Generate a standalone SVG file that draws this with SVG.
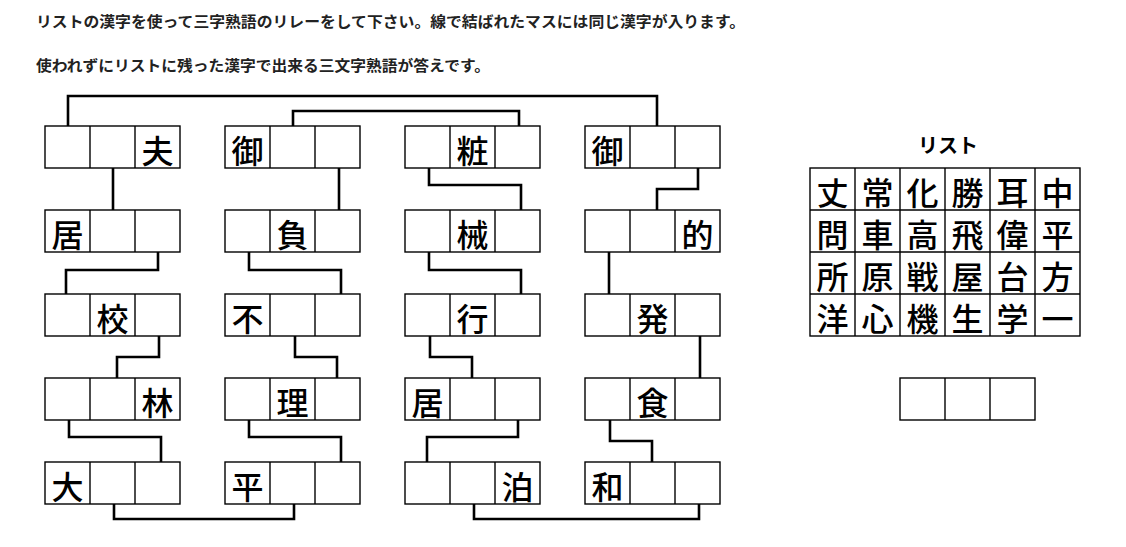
<svg xmlns="http://www.w3.org/2000/svg" width="1126" height="547" viewBox="0 0 1126 547">
<style>
.box{fill:#fff;stroke:#000;stroke-width:1.4}
.div{stroke:#000;stroke-width:1.4}
.k{font-family:"Noto Sans CJK JP","Noto Sans CJK SC",sans-serif;font-size:32px;font-weight:500;text-anchor:middle;fill:#000}
.con{fill:none;stroke:#000;stroke-width:2.6;stroke-linejoin:miter}
.ins{font-family:"Noto Sans CJK JP",sans-serif;font-size:15px;font-weight:bold;fill:#222}
.ttl{font-family:"Noto Sans CJK JP",sans-serif;font-size:20px;font-weight:bold;text-anchor:middle;fill:#000}
</style>
<defs>
<g id="b3"><rect class="box" x="0" y="0" width="135" height="42"/><line class="div" x1="45" y1="0" x2="45" y2="42"/><line class="div" x1="90" y1="0" x2="90" y2="42"/></g>
</defs>
<rect width="1126" height="547" fill="#fff"/>
<g id="instructions">
<text class="ins" x="36" y="27" textLength="709" lengthAdjust="spacingAndGlyphs">リストの漢字を使って三字熟語のリレーをして下さい。線で結ばれたマスには同じ漢字が入ります。</text>
<text class="ins" x="36" y="71" textLength="454" lengthAdjust="spacingAndGlyphs">使われずにリストに残った漢字で出来る三文字熟語が答えです。</text>
</g>
<g id="connectors">
<polyline class="con" points="68,126 68,96 657,96 657,126"/>
<polyline class="con" points="293,126 293,111 519,111 519,126"/>
<polyline class="con" points="113,168 113,210"/>
<polyline class="con" points="339,168 339,210"/>
<polyline class="con" points="429,168 429,185 521,185 521,210"/>
<polyline class="con" points="698,168 698,189 657,189 657,210"/>
<polyline class="con" points="158,252 158,270 66,270 66,294"/>
<polyline class="con" points="249,252 249,270 341,270 341,294"/>
<polyline class="con" points="429,252 429,270 521,270 521,294"/>
<polyline class="con" points="609,252 609,294"/>
<polyline class="con" points="159,336 159,357 117,357 117,378"/>
<polyline class="con" points="295,336 295,357 337,357 337,378"/>
<polyline class="con" points="430,336 430,357 472,357 472,378"/>
<polyline class="con" points="700,336 700,378"/>
<polyline class="con" points="69,420 69,437 161,437 161,462"/>
<polyline class="con" points="249,420 249,437 341,437 341,462"/>
<polyline class="con" points="518,420 518,437 427,437 427,462"/>
<polyline class="con" points="610,420 610,441 652,441 652,462"/>
<polyline class="con" points="114,504 114,519 294,519 294,504"/>
<polyline class="con" points="474,504 474,519 699,519 699,504"/>
</g>
<g id="n-c1r1"><use href="#b3" x="45" y="126"/><text class="k" x="157.5" y="163">夫</text></g>
<g id="n-c1r2"><use href="#b3" x="45" y="210"/><text class="k" x="67.5" y="247">居</text></g>
<g id="n-c1r3"><use href="#b3" x="45" y="294"/><text class="k" x="112.5" y="331">校</text></g>
<g id="n-c1r4"><use href="#b3" x="45" y="378"/><text class="k" x="157.5" y="415">林</text></g>
<g id="n-c1r5"><use href="#b3" x="45" y="462"/><text class="k" x="67.5" y="499">大</text></g>
<g id="n-c2r1"><use href="#b3" x="225" y="126"/><text class="k" x="247.5" y="163">御</text></g>
<g id="n-c2r2"><use href="#b3" x="225" y="210"/><text class="k" x="292.5" y="247">負</text></g>
<g id="n-c2r3"><use href="#b3" x="225" y="294"/><text class="k" x="247.5" y="331">不</text></g>
<g id="n-c2r4"><use href="#b3" x="225" y="378"/><text class="k" x="292.5" y="415">理</text></g>
<g id="n-c2r5"><use href="#b3" x="225" y="462"/><text class="k" x="247.5" y="499">平</text></g>
<g id="n-c3r1"><use href="#b3" x="405" y="126"/><text class="k" x="472.5" y="163">粧</text></g>
<g id="n-c3r2"><use href="#b3" x="405" y="210"/><text class="k" x="472.5" y="247">械</text></g>
<g id="n-c3r3"><use href="#b3" x="405" y="294"/><text class="k" x="472.5" y="331">行</text></g>
<g id="n-c3r4"><use href="#b3" x="405" y="378"/><text class="k" x="427.5" y="415">居</text></g>
<g id="n-c3r5"><use href="#b3" x="405" y="462"/><text class="k" x="517.5" y="499">泊</text></g>
<g id="n-c4r1"><use href="#b3" x="585" y="126"/><text class="k" x="607.5" y="163">御</text></g>
<g id="n-c4r2"><use href="#b3" x="585" y="210"/><text class="k" x="697.5" y="247">的</text></g>
<g id="n-c4r3"><use href="#b3" x="585" y="294"/><text class="k" x="652.5" y="331">発</text></g>
<g id="n-c4r4"><use href="#b3" x="585" y="378"/><text class="k" x="652.5" y="415">食</text></g>
<g id="n-c4r5"><use href="#b3" x="585" y="462"/><text class="k" x="607.5" y="499">和</text></g>
<g id="list">
<text class="ttl" x="948" y="153">リスト</text>
<rect class="box" x="810" y="168" width="270" height="168"/>
<line class="div" x1="855" y1="168" x2="855" y2="336"/>
<line class="div" x1="900" y1="168" x2="900" y2="336"/>
<line class="div" x1="945" y1="168" x2="945" y2="336"/>
<line class="div" x1="990" y1="168" x2="990" y2="336"/>
<line class="div" x1="1035" y1="168" x2="1035" y2="336"/>
<line class="div" x1="810" y1="210" x2="1080" y2="210"/>
<line class="div" x1="810" y1="252" x2="1080" y2="252"/>
<line class="div" x1="810" y1="294" x2="1080" y2="294"/>
<text class="k" y="205"><tspan x="832.5">丈</tspan><tspan x="877.5">常</tspan><tspan x="922.5">化</tspan><tspan x="967.5">勝</tspan><tspan x="1012.5">耳</tspan><tspan x="1057.5">中</tspan></text>
<text class="k" y="247"><tspan x="832.5">問</tspan><tspan x="877.5">車</tspan><tspan x="922.5">高</tspan><tspan x="967.5">飛</tspan><tspan x="1012.5">偉</tspan><tspan x="1057.5">平</tspan></text>
<text class="k" y="289"><tspan x="832.5">所</tspan><tspan x="877.5">原</tspan><tspan x="922.5">戦</tspan><tspan x="967.5">屋</tspan><tspan x="1012.5">台</tspan><tspan x="1057.5">方</tspan></text>
<text class="k" y="331"><tspan x="832.5">洋</tspan><tspan x="877.5">心</tspan><tspan x="922.5">機</tspan><tspan x="967.5">生</tspan><tspan x="1012.5">学</tspan><tspan x="1057.5">一</tspan></text>
</g>
<g id="answer"><use href="#b3" x="900" y="378"/></g>
</svg>
